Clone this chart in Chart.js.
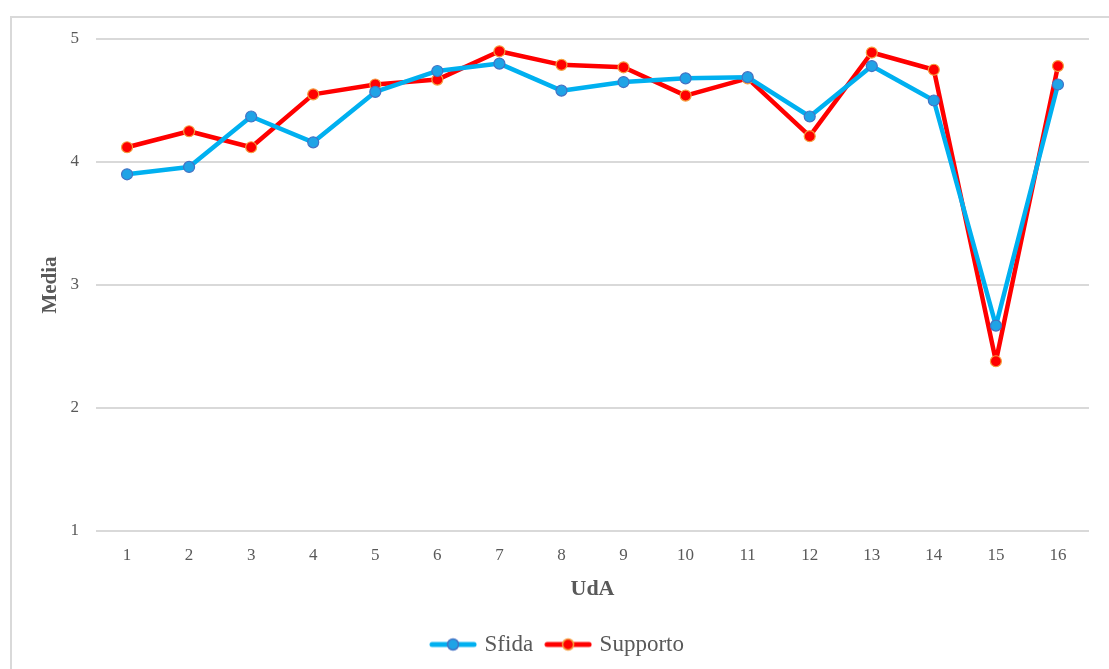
<!DOCTYPE html>
<html>
<head>
<meta charset="utf-8">
<script src="https://cdn.jsdelivr.net/npm/chart.js@4.4.1/dist/chart.umd.min.js"></script>
<style>
  html, body { margin: 0; padding: 0; background: #fff; }
  #wrap { position: relative; width: 1109px; height: 669px; overflow: hidden; }
  #frame { position: absolute; left: 10px; top: 16px; width: 1200px; height: 800px; border: 2px solid #d9d9d9; box-sizing: border-box; }
  #c { position: absolute; left: 0; top: 0; }
</style>
</head>
<body>
<div id="wrap">
  <div id="frame"></div>
  <canvas id="c" width="1109" height="669"></canvas>
</div>
<script>
// dati
const categories = ['1','2','3','4','5','6','7','8','9','10','11','12','13','14','15','16'];
const sfida    = [3.90, 3.96, 4.37, 4.16, 4.57, 4.74, 4.80, 4.58, 4.65, 4.68, 4.69, 4.37, 4.78, 4.50, 2.67, 4.63];
const supporto = [4.12, 4.25, 4.12, 4.55, 4.63, 4.67, 4.90, 4.79, 4.77, 4.54, 4.68, 4.21, 4.89, 4.75, 2.38, 4.78];
const yTicks = [1, 2, 3, 4, 5];

const textColor = '#595959';
const fontFam = '"Liberation Serif", "Times New Roman", serif';

// piccola icona linea + cerchio per la legenda
function legendIcon(line, fill, border) {
  const cv = document.createElement('canvas');
  cv.width = 48; cv.height = 16;
  const g = cv.getContext('2d');
  g.strokeStyle = line;
  g.lineWidth = 5;
  g.lineCap = 'round';
  g.beginPath(); g.moveTo(3, 8); g.lineTo(45, 8); g.stroke();
  g.fillStyle = fill;
  g.strokeStyle = border;
  g.lineWidth = 1.5;
  g.beginPath(); g.arc(24, 8, 5.5, 0, Math.PI * 2); g.fill(); g.stroke();
  return cv;
}

const ctx = document.getElementById('c').getContext('2d');

new Chart(ctx, {
  type: 'line',
  data: {
    labels: categories,
    datasets: [{
      label: 'Sfida',
      data: sfida,
      borderColor: '#00B0F0',
      borderWidth: 4.5,
      borderJoinStyle: 'round',
      pointBackgroundColor: '#1FA3E6',
      pointBorderColor: '#4472C4',
      pointBorderWidth: 1.2,
      pointRadius: 5.5,
      tension: 0,
      icon: legendIcon('#00B0F0', '#1FA3E6', '#4472C4')
    }, {
      label: 'Supporto',
      data: supporto,
      borderColor: '#FF0000',
      borderWidth: 4.5,
      borderJoinStyle: 'round',
      pointBackgroundColor: '#FF0000',
      pointBorderColor: '#F4A040',
      pointBorderWidth: 1.2,
      pointRadius: 5.5,
      tension: 0,
      icon: legendIcon('#FF0000', '#FF0000', '#F4A040')
    }]
  },
  options: {
    responsive: false,
    animation: false,
    layout: { padding: { left: 28, right: 20, top: 39, bottom: 3 } },
    scales: {
      x: {
        offset: true,
        grid: { display: false, drawTicks: false },
        border: { display: false },
        ticks: { color: textColor, padding: 14, font: { family: fontFam, size: 17 } },
        title: {
          display: true, text: 'UdA', color: textColor,
          font: { family: fontFam, size: 22, weight: 'bold' },
          padding: { top: 10, bottom: 15 }
        },
        afterFit: s => { s.height = 87; }
      },
      y: {
        min: 1, max: 5,
        afterBuildTicks: s => { s.ticks = yTicks.map(v => ({ value: v })); },
        grid: { color: '#d9d9d9', lineWidth: 2, drawTicks: false },
        border: { display: false },
        ticks: { color: textColor, padding: 17, font: { family: fontFam, size: 17 } },
        title: {
          display: true, text: 'Media', color: textColor,
          font: { family: fontFam, size: 21, weight: 'bold' },
          padding: { top: 10, bottom: 0 }
        },
        afterFit: s => { s.width = 68; }
      }
    },
    plugins: {
      legend: {
        position: 'bottom',
        labels: {
          color: textColor,
          font: { family: fontFam, size: 23 },
          usePointStyle: true,
          pointStyleWidth: 40,
          padding: 15,
          generateLabels: chart => chart.data.datasets.map((d, i) => ({
            text: d.label,
            fontColor: textColor,
            pointStyle: d.icon,
            datasetIndex: i,
            hidden: false
          }))
        }
      },
      tooltip: { enabled: false }
    }
  }
});
</script>
</body>
</html>
